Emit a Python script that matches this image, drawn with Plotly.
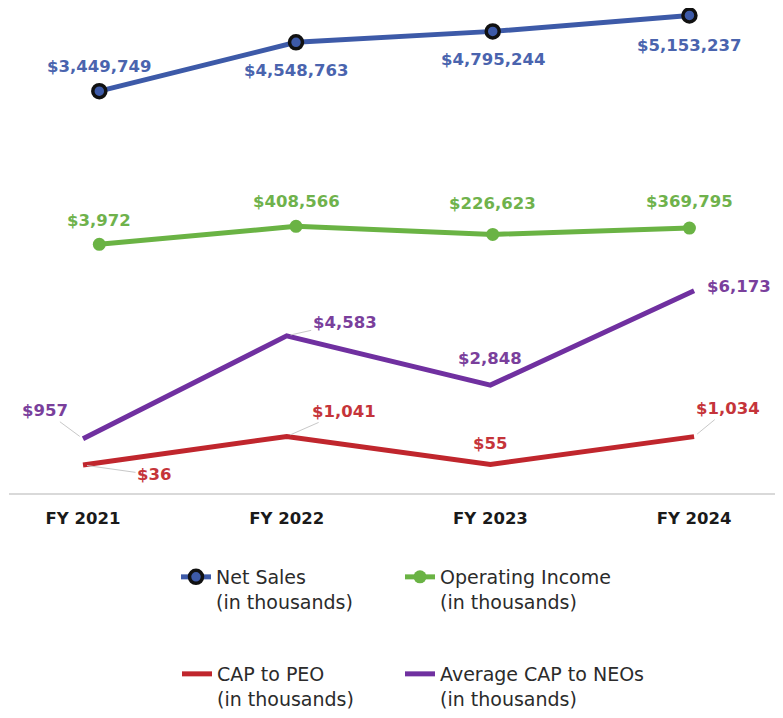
import plotly.graph_objects as go

# ---- data ----
years = ["FY 2021", "FY 2022", "FY 2023", "FY 2024"]
net_sales = [3449749, 4548763, 4795244, 5153237]
operating_income = [3972, 408566, 226623, 369795]
cap_peo = [36, 1041, 55, 1034]
avg_cap_neo = [957, 4583, 2848, 6173]

# ---- styles ----
BLUE, BLUE_T = "#3D5AA8", "#4A64AE"
GREEN, GREEN_T = "#6AB344", "#6FB24C"
RED, RED_T = "#C0262D", "#C5343A"
PURPLE, PURPLE_T = "#7030A0", "#7A3F9C"
LEADER = "#C8C8C8"
LABEL_FONT = "DejaVu Sans"

FIG_W, FIG_H = 783, 718   # page body adds an 8px offset; overflow is clipped
PLOT_H = 485

def money(v):
    return f"${v:,}"

fig = go.Figure()

# upper chart (x2 / y2)
fig.add_trace(go.Scatter(
    x=years, y=net_sales, xaxis="x2", yaxis="y2", mode="lines+markers",
    name="Net Sales<br>(in thousands)", legend="legend",
    line=dict(color=BLUE, width=5),
    marker=dict(size=13, color=BLUE, line=dict(color="#111111", width=3.5)),
    hoverinfo="skip"))
fig.add_trace(go.Scatter(
    x=years, y=operating_income, xaxis="x2", yaxis="y2", mode="lines+markers",
    name="Operating Income<br>(in thousands)", legend="legend2",
    line=dict(color=GREEN, width=5),
    marker=dict(size=13, color=GREEN),
    hoverinfo="skip"))

# lower chart (x / y)
fig.add_trace(go.Scatter(
    x=years, y=cap_peo, xaxis="x", yaxis="y", mode="lines",
    name="CAP to PEO<br>(in thousands)", legend="legend3",
    line=dict(color=RED, width=5), hoverinfo="skip"))
fig.add_trace(go.Scatter(
    x=years, y=avg_cap_neo, xaxis="x", yaxis="y", mode="lines",
    name="Average CAP to NEOs<br>(in thousands)", legend="legend4",
    line=dict(color=PURPLE, width=5), hoverinfo="skip"))

annotations = []

def label(x, y, v, color, xref, yref, xs=0, ys=0, arrow=None, xanchor="center"):
    a = dict(x=x, y=y, xref=xref, yref=yref, text=money(v),
             font=dict(family=LABEL_FONT, size=16.5, color=color, weight="bold"))
    if arrow:
        a.update(showarrow=True, ax=arrow[0], ay=arrow[1], arrowhead=0,
                 arrowwidth=1, arrowcolor=LEADER, standoff=4)
    else:
        a.update(showarrow=False, xshift=xs, yshift=ys, xanchor=xanchor)
    annotations.append(a)

ns_shift = [25, -28, -28.5, -30]
oi_shift = [24, 25, 31, 26.5]
for i, yr in enumerate(years):
    label(yr, net_sales[i], net_sales[i], BLUE_T, "x2", "y2", ys=ns_shift[i])
    label(yr, operating_income[i], operating_income[i], GREEN_T, "x2", "y2", ys=oi_shift[i])

# lower labels
label(years[0], avg_cap_neo[0], avg_cap_neo[0], PURPLE_T, "x", "y", arrow=(-38, -28))
label(years[1], avg_cap_neo[1], avg_cap_neo[1], PURPLE_T, "x", "y", arrow=(58, -13))
label(years[2], avg_cap_neo[2], avg_cap_neo[2], PURPLE_T, "x", "y", ys=26.5)
label(years[3], avg_cap_neo[3], avg_cap_neo[3], PURPLE_T, "x", "y", xs=11, ys=4, xanchor="left")

label(years[0], cap_peo[0], cap_peo[0], RED_T, "x", "y", arrow=(71, 10))
label(years[1], cap_peo[1], cap_peo[1], RED_T, "x", "y", arrow=(57, -25))
label(years[2], cap_peo[2], cap_peo[2], RED_T, "x", "y", ys=21)
label(years[3], cap_peo[3], cap_peo[3], RED_T, "x", "y", arrow=(34, -28))

legend_font = dict(family="DejaVu Sans", size=19, color="#2B2B2B")

def leg(xpx, ypx):
    return dict(orientation="v", x=xpx / FIG_W, xanchor="left",
                y=(PLOT_H - ypx) / PLOT_H, yanchor="top",
                valign="top", font=legend_font, itemwidth=30,
                bgcolor="rgba(0,0,0,0)")

fig.update_layout(
    width=FIG_W, height=FIG_H,
    margin=dict(l=0, r=0, t=0, b=FIG_H - PLOT_H),
    paper_bgcolor="white", plot_bgcolor="white",
    showlegend=True,
    xaxis=dict(domain=[1 / FIG_W, 1], range=[-0.3633, 3.4758], type="category",
               categoryorder="array", categoryarray=years,
               showline=True, linecolor="#D9D9D9", linewidth=2,
               showgrid=False, zeroline=False, ticks="",
               tickfont=dict(family="DejaVu Sans", size=16.5, color="#1A1A1A", weight="bold"),
               ticklabelstandoff=9, fixedrange=True),
    xaxis2=dict(domain=[1 / FIG_W, 1], range=[-0.4591, 3.5164], type="category",
                categoryorder="array", categoryarray=years,
                overlaying="x", visible=False, fixedrange=True),
    yaxis=dict(range=[-951, 16126], visible=False, fixedrange=True),
    yaxis2=dict(range=[-5591250, 5321250], overlaying="y", visible=False, fixedrange=True),
    legend=leg(168, 550),
    legend2=leg(392, 550),
    legend3=leg(169, 647),
    legend4=leg(392, 647),
    annotations=annotations,
)

fig.write_html("out.html")
